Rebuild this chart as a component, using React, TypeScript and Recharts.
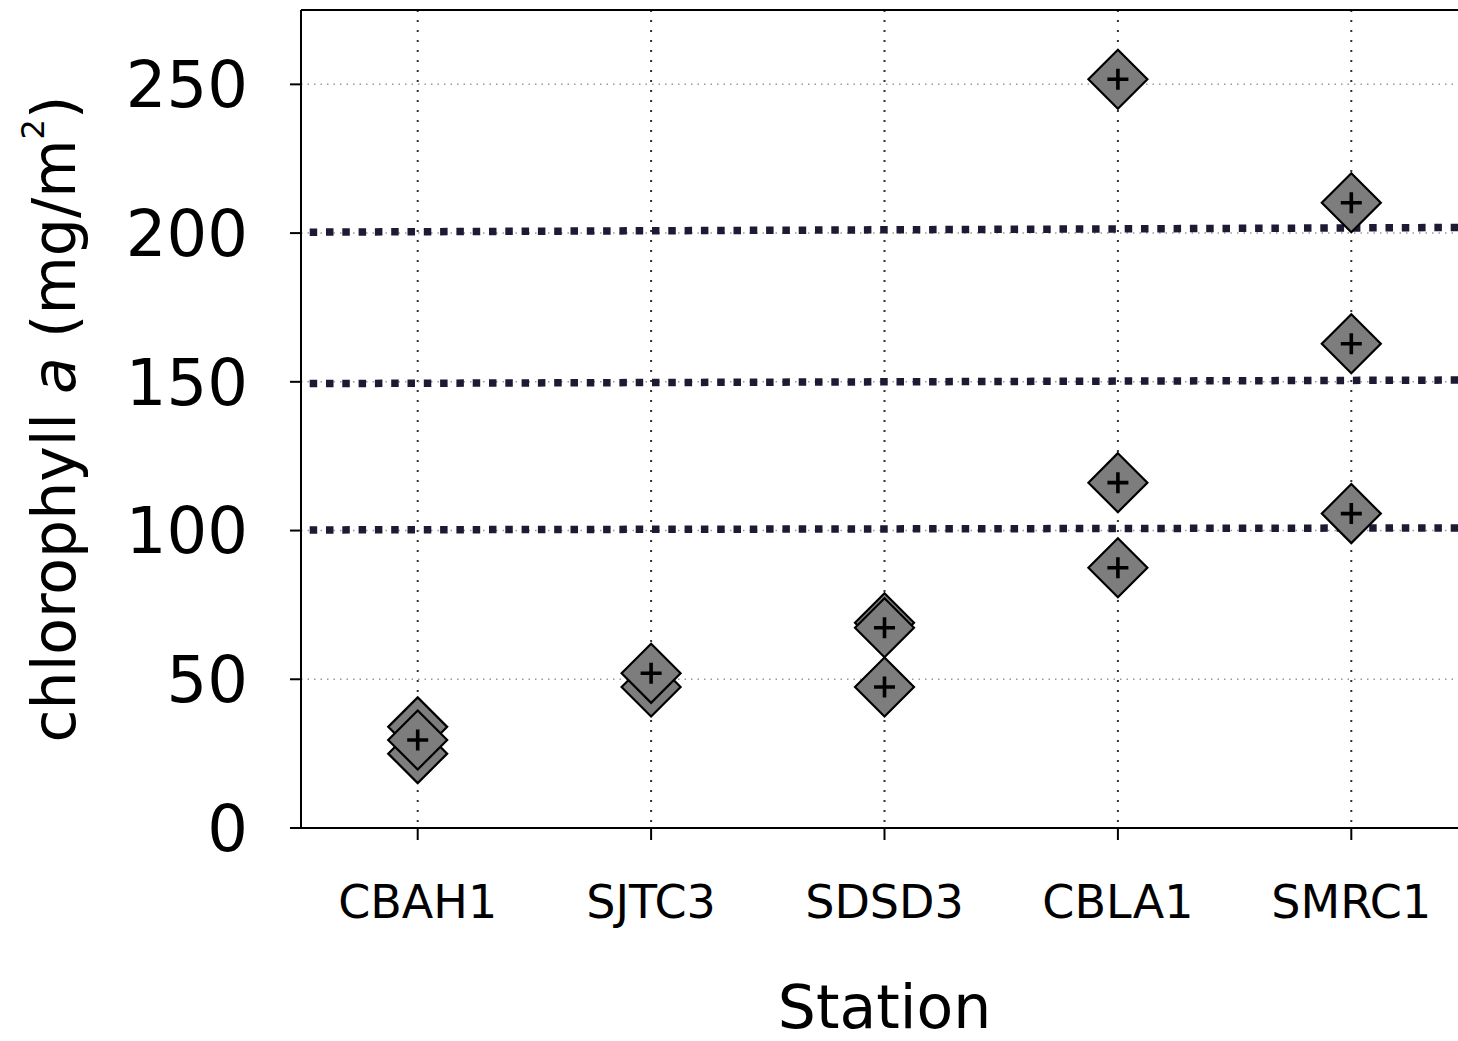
import {
  ScatterChart,
  Scatter,
  XAxis,
  YAxis,
  CartesianGrid,
  ReferenceLine,
} from 'recharts';

const stations = ['CBAH1', 'SJTC3', 'SDSD3', 'CBLA1', 'SMRC1'];
// chlorophyll a per station, in drawing order (later samples sit on top)
const chlA = [
  [34, 25, 29.6],
  [47.4, 52],
  [69, 67.3, 47.4],
  [251.7, 116.1, 87.5],
  [210.2, 162.8, 105.7],
];
const yTicks = [0, 50, 100, 150, 200, 250];
// thresholds, start and end value across the plot (the scan is slightly tilted)
const thresholds = [
  [200.3, 201.9],
  [149.4, 150.6],
  [100.2, 100.9],
];

const FONT = '"DejaVu Sans", sans-serif';

const points = stations.flatMap((s, i) =>
  chlA[i].map((v) => ({ x: i + 0.5, y: v, station: s }))
);

function DiamondMark(props: any) {
  const { cx, cy } = props;
  if (cx == null || cy == null) return null;
  const r = 29.5;
  const p = 10.5;
  return (
    <g>
      <path
        d={`M${cx},${cy - r}L${cx + r},${cy}L${cx},${cy + r}L${cx - r},${cy}Z`}
        fill="#7d7d7d"
        stroke="#000"
        strokeWidth={2.2}
        strokeLinejoin="miter"
      />
      <path
        d={`M${cx - p},${cy}H${cx + p}M${cx},${cy - p}V${cy + p}`}
        stroke="#000"
        strokeWidth={3.6}
      />
    </g>
  );
}

function YTitle(props: any) {
  const vb = props.viewBox || { x: 0, y: 0, height: 0 };
  const x = vb.x + 75;
  const y = vb.y + vb.height / 2;
  return (
    <text
      x={x}
      y={y}
      textAnchor="middle"
      transform={`rotate(-90, ${x}, ${y})`}
      fontFamily={FONT}
      fontSize={60}
      fill="#000"
    >
      <tspan>chlorophyll </tspan>
      <tspan fontStyle="italic">a</tspan>
      <tspan> (mg/m</tspan>
      <tspan fontSize={32} dy={-31}>2</tspan>
      <tspan dy={31}>)</tspan>
    </text>
  );
}

function XTitle(props: any) {
  const vb = props.viewBox || { x: 0, y: 0, width: 0 };
  return (
    <text
      x={vb.x + vb.width / 2}
      y={vb.y + 200}
      textAnchor="middle"
      fontFamily={FONT}
      fontSize={60}
      fill="#000"
    >
      Station
    </text>
  );
}

export default function App() {
  return (
    <div
      style={{
        position: 'absolute',
        left: 0,
        top: 0,
        width: 1458,
        height: 1041,
        overflow: 'hidden',
        background: '#fff',
      }}
    >
      <ScatterChart width={1480} height={1041} margin={{ top: 10, right: 12, bottom: 0, left: 0 }}>
        <CartesianGrid
          horizontal={false}
          stroke="#333"
          strokeWidth={2}
          strokeDasharray="2 8"
        />
        <CartesianGrid
          vertical={false}
          stroke="#999"
          strokeWidth={1.5}
          strokeDasharray="1.5 5"
        />
        <XAxis
          type="number"
          dataKey="x"
          domain={[0, stations.length]}
          ticks={stations.map((_, i) => i + 0.5)}
          interval={0}
          tickFormatter={(v: number) => stations[Math.floor(v)]}
          height={213}
          tickSize={12}
          tickMargin={45}
          axisLine={{ stroke: '#000', strokeWidth: 2 }}
          tickLine={{ stroke: '#000', strokeWidth: 2 }}
          tick={{ fontSize: 46, fill: '#000', fontFamily: FONT }}
          label={<XTitle />}
        />
        <YAxis
          type="number"
          dataKey="y"
          domain={[0, 275]}
          ticks={yTicks}
          interval={0}
          width={301}
          tickSize={11}
          tickMargin={42}
          axisLine={{ stroke: '#000', strokeWidth: 2 }}
          tickLine={{ stroke: '#000', strokeWidth: 2 }}
          tick={{ fontSize: 64, fill: '#000', fontFamily: FONT }}
          label={<YTitle />}
        />
        <ReferenceLine y={275} stroke="#000" strokeWidth={2} />
        <Scatter data={points} shape={<DiamondMark />} isAnimationActive={false} />
        {thresholds.map(([a, b], i) => (
          <ReferenceLine
            key={i}
            segment={[
              { x: 0, y: a },
              { x: stations.length, y: b },
            ]}
            stroke="#1d1b33"
            strokeWidth={7.5}
            strokeDasharray="7.5 8.8"
            strokeDashoffset={7.6}
          />
        ))}
      </ScatterChart>
    </div>
  );
}
